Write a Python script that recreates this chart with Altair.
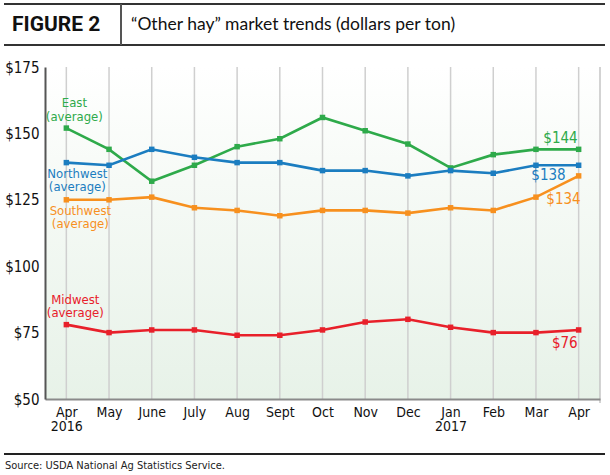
import altair as alt
import pandas as pd

months = ["Apr 2016", "May", "June", "July", "Aug", "Sept", "Oct", "Nov", "Dec",
          "Jan 2017", "Feb", "Mar", "Apr 2017"]
east = [152, 144, 132, 138, 145, 148, 156, 151, 146, 137, 142, 144, 144]
northwest = [139, 138, 144, 141, 139, 139, 136, 136, 134, 136, 135, 138, 138]
southwest = [125, 125, 126, 122, 121, 119, 121, 121, 120, 122, 121, 126, 134]
midwest = [78, 75, 76, 76, 74, 74, 76, 79, 80, 77, 75, 75, 76]
series_names = ["East", "Northwest", "Southwest", "Midwest"]
series_colors = ["#2eaa4a", "#1b7dc0", "#f7901e", "#e8202a"]
y_ticks = [50, 75, 100, 125, 150, 175]

NARROW = "Liberation Sans Narrow, Arial Narrow, DejaVu Sans Condensed, sans-serif"

rows = []
for name, vals in zip(series_names, [east, northwest, southwest, midwest]):
    for m, v in zip(months, vals):
        rows.append({"series": name, "month": m, "value": v})
df = pd.DataFrame(rows)

W, H = 555, 332

xscale = alt.Scale(type="point", padding=0.5, domain=months)
yscale = alt.Scale(domain=[50, 175], nice=False, zero=False)
color = alt.Color("series:N", scale=alt.Scale(domain=series_names, range=series_colors), legend=None)

xaxis = alt.Axis(title=None, labelAngle=0, ticks=False, grid=False,
                 domainColor="#8a8a8a", domainWidth=2,
                 labelFont=NARROW, labelFontSize=14, labelColor="#111",
                 labelPadding=6, labelLineHeight=14, zindex=1,
                 labelExpr="datum.value == 'Apr 2017' ? 'Apr' : split(datum.value, ' ')")
yaxis = alt.Axis(title=None, values=y_ticks, grid=False, ticks=False,
                 domainColor="#555555", domainWidth=2,
                 labelFont=NARROW, labelFontSize=15, labelColor="#111",
                 labelPadding=6, zindex=1,
                 labelExpr="'$' + datum.value")

one = pd.DataFrame({"k": [0]})
mdf = pd.DataFrame({"month": months})

bg = alt.Chart(one).mark_rect(
    color=alt.Gradient(
        gradient="linear",
        stops=[alt.GradientStop(color="#ffffff", offset=0),
               alt.GradientStop(color="#f6faf6", offset=0.35),
               alt.GradientStop(color="#e7f2e8", offset=1)],
        x1=0, x2=0, y1=0, y2=1)
).encode(x=alt.value(0), x2=alt.value(W), y=alt.value(0), y2=alt.value(H))

grid = alt.Chart(mdf).mark_rule(color="#cfcfcf", strokeWidth=1.5).encode(
    x=alt.X("month:N", scale=xscale, sort=months, axis=xaxis)
)
right_border = alt.Chart(one).mark_rule(color="#c4c4c4", strokeWidth=1.5).encode(
    x=alt.value(W), y=alt.value(0), y2=alt.value(H + 4)
)

base = alt.Chart(df).encode(
    x=alt.X("month:N", scale=xscale, sort=months, axis=xaxis),
    y=alt.Y("value:Q", scale=yscale, axis=yaxis),
    color=color,
    detail="series:N",
)

lines = base.mark_line(strokeWidth=2.6)
points = base.mark_point(shape="square", filled=True, size=30, opacity=1)

# series name labels anchored at first point (dy places the first line)
label_specs = [
    ("East", "East\n(average)", 8, -25),
    ("Northwest", "Northwest\n(average)", 11, 11),
    ("Southwest", "Southwest\n(average)", 14, 11),
    ("Midwest", "Midwest\n(average)", 9, -25),
]
name_layers = []
for name, txt, dx, dy in label_specs:
    d = df[(df.series == name) & (df.month == months[0])].assign(label=txt)
    name_layers.append(
        alt.Chart(d).mark_text(font=NARROW, fontSize=13, lineBreak="\n", lineHeight=13.5,
                               align="center", baseline="middle", dx=dx, dy=dy).encode(
            x=alt.X("month:N", scale=xscale, sort=months, axis=xaxis),
            y=alt.Y("value:Q", scale=yscale, axis=yaxis),
            text="label:N",
            color=color,
        )
    )

end_specs = [
    ("East", -1, -11),
    ("Northwest", -13, 10),
    ("Southwest", 2, 23),
    ("Midwest", -1, 13),
]
end_layers = []
for name, dx, dy in end_specs:
    d = df[(df.series == name) & (df.month == months[-1])]
    d = d.assign(label=["$" + str(v) for v in d.value])
    end_layers.append(
        alt.Chart(d).mark_text(font=NARROW, fontSize=15, align="right",
                               baseline="middle", dx=dx, dy=dy).encode(
            x=alt.X("month:N", scale=xscale, sort=months, axis=xaxis),
            y=alt.Y("value:Q", scale=yscale, axis=yaxis),
            text="label:N",
            color=color,
        )
    )

# header and footer decoration
hdr_top = alt.Chart(one).mark_rule(color="#333333", strokeWidth=2).encode(
    x=alt.value(-41), x2=alt.value(560), y=alt.value(-63))
hdr_bot = alt.Chart(one).mark_rule(color="#333333", strokeWidth=2).encode(
    x=alt.value(-41), x2=alt.value(560), y=alt.value(-22))
hdr_sep = alt.Chart(one).mark_rule(color="#555555", strokeWidth=2).encode(
    x=alt.value(76), y=alt.value(-63), y2=alt.value(-22))
fig_lbl = alt.Chart(one).mark_text(font="Roboto", fontWeight="bold", fontSize=21,
                                   align="left", baseline="middle", color="#111").encode(
    x=alt.value(-33), y=alt.value(-42), text=alt.value("FIGURE 2"))
fig_title = alt.Chart(one).mark_text(font="Lato", fontSize=17.5, align="left",
                                     baseline="middle", color="#111").encode(
    x=alt.value(86), y=alt.value(-42),
    text=alt.value("\u201cOther hay\u201d market trends (dollars per ton)"))
ftr_rule = alt.Chart(one).mark_rule(color="#222222", strokeWidth=2).encode(
    x=alt.value(-41), x2=alt.value(560), y=alt.value(387))
ftr_text = alt.Chart(one).mark_text(font=NARROW, fontSize=11, align="left",
                                    baseline="middle", color="#222").encode(
    x=alt.value(-40), y=alt.value(399),
    text=alt.value("Source: USDA National Ag Statistics Service."))

chart = alt.layer(
    bg, grid, right_border, lines, points, *name_layers, *end_layers,
    hdr_top, hdr_bot, hdr_sep, fig_lbl, fig_title, ftr_rule, ftr_text
).properties(
    width=W, height=H,
    padding={"left": 45, "top": 67, "right": 10, "bottom": 76},
    autosize=alt.AutoSizeParams(type="none"),
    background="white",
).configure_view(stroke=None)

chart.save("out.html", embed_options={"renderer": "svg", "actions": False})
